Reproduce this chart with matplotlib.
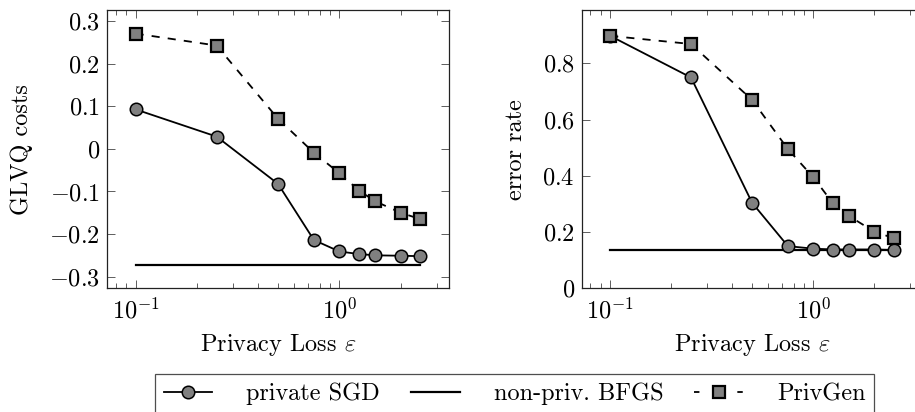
import numpy as np
import matplotlib
matplotlib.use("Agg")
from matplotlib import pyplot as plt
from matplotlib.ticker import FuncFormatter
from matplotlib.lines import Line2D

plt.rcParams['font.family'] = 'cmr10'
plt.rcParams['mathtext.fontset'] = 'cm'
plt.rcParams['axes.formatter.use_mathtext'] = True
plt.rcParams['font.size'] = 17.5

# privacy loss values
eps = [0.1, 0.25, 0.5, 0.75, 1.0, 1.25, 1.5, 2.0, 2.5]

# GLVQ costs
cost_sgd = [0.093, 0.029, -0.082, -0.214, -0.241, -0.247, -0.250, -0.251, -0.252]
cost_bfgs = [-0.273, -0.273]
cost_privgen = [0.271, 0.243, 0.071, -0.009, -0.057, -0.098, -0.123, -0.150, -0.165]

# error rates
err_sgd = [0.898, 0.750, 0.304, 0.150, 0.141, 0.138, 0.138, 0.138, 0.136]
err_bfgs = [0.136, 0.136]
err_privgen = [0.898, 0.869, 0.670, 0.495, 0.395, 0.302, 0.257, 0.201, 0.178]

bfgs_x = [eps[0], eps[-1]]

gray = '#808080'
lw = 1.3
dash = (4.5, 4.5)


def fmt(v, pos):
    if abs(v) < 1e-9:
        return "$0$"
    return f"${v:.1f}$"


fig = plt.figure(figsize=(9.15, 4.12), dpi=100)
ax1 = fig.add_axes([107 / 915, 1 - 288.3 / 412, 342 / 915, 278.3 / 412])
ax2 = fig.add_axes([581.7 / 915, 1 - 288.3 / 412, 340.9 / 915, 278.3 / 412])

for ax, sgd, bfgs, pg in [(ax1, cost_sgd, cost_bfgs, cost_privgen),
                          (ax2, err_sgd, err_bfgs, err_privgen)]:
    ax.plot(eps, sgd, color='black', lw=lw, marker='o', ms=9,
            mfc=gray, mec='black', mew=1.1, zorder=3)
    ax.plot(bfgs_x, bfgs, color='black', lw=lw + 0.3, zorder=2)
    ax.plot(eps, pg, color='black', lw=lw, ls=(0, dash), marker='s', ms=8.2,
            mfc=gray, mec='black', mew=1.6, zorder=4)
    ax.set_xscale('log')
    ax.set_xlim(10 ** -1.14, 10 ** 0.538)
    ax.tick_params(which='both', direction='in', top=True, right=True,
                   width=0.6, color='#444444')
    ax.tick_params(which='major', length=6, pad=5)
    ax.tick_params(which='minor', length=3.5)
    ax.tick_params(axis='x', which='major', pad=7)
    for sp in ax.spines.values():
        sp.set_linewidth(0.9)
        sp.set_color('#222222')
    ax.set_xlabel(r'Privacy Loss $\boldsymbol{\varepsilon}$', labelpad=6)
    ax.yaxis.set_major_formatter(FuncFormatter(fmt))

ax1.set_ylim(-0.3275, 0.3265)
ax1.set_yticks([-0.3, -0.2, -0.1, 0, 0.1, 0.2, 0.3])
ax1.set_ylabel('GLVQ costs')
ax1.yaxis.set_label_coords(-0.216, 0.5)

ax2.set_ylim(0, 0.99)
ax2.set_yticks([0, 0.2, 0.4, 0.6, 0.8])
ax2.set_ylabel('error rate')
ax2.yaxis.set_label_coords(-0.160, 0.5)

handles = [
    Line2D([], [], color='black', lw=lw, marker='o', ms=9, mfc=gray, mec='black', mew=1.1),
    Line2D([], [], color='black', lw=lw + 0.3),
    Line2D([], [], color='black', lw=lw, ls=(0, (3, 9)), marker='s', ms=8.2, mfc=gray, mec='black', mew=1.6),
]
labels = ['private SGD', 'non-priv. BFGS', 'PrivGen']
leg = fig.legend(handles, labels, loc='upper left', ncol=3, mode='expand',
                 bbox_to_anchor=(155.3 / 915, 1 - 374.3 / 412 - 0.2, (874 - 155.3) / 915, 0.2),
                 borderaxespad=0, frameon=True, fancybox=False, handlelength=2.0,
                 handletextpad=1.4, columnspacing=1.2, borderpad=0.35)
leg.get_frame().set_edgecolor('#222222')
leg.get_frame().set_linewidth(0.9)

fig.savefig('out.png', dpi=100)
